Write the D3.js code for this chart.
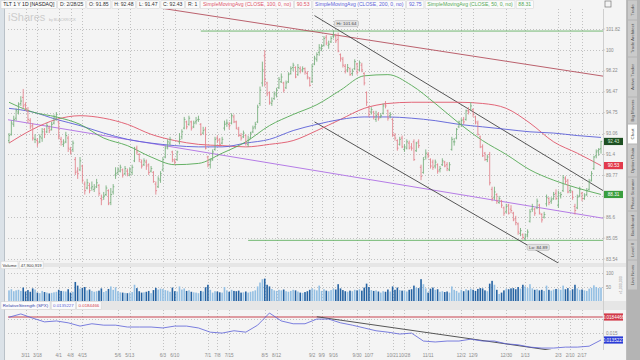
<!DOCTYPE html>
<meta charset="utf-8">
<style>
body { margin: 0; background: #ebebeb; }
svg { display: block; font-family: "Liberation Sans", Arial, sans-serif; }
.grid line { stroke: #c2c2c2; stroke-dasharray: 1,2; shape-rendering: crispEdges; }
.axis-label { fill: #8a8a8a; font-size: 4.6px; }
</style>
<script src="https://cdn.jsdelivr.net/npm/d3@7"></script>
<body>
<script>
// ---- data (TLT daily, 2/29/2024 - 2/28/2025) ----
const holidays = ['2024-03-29','2024-05-27','2024-06-19','2024-07-04','2024-09-02','2024-11-28',
  '2024-12-25','2025-01-01','2025-01-09','2025-01-20','2025-02-17'];

const opens = [92.5,
  93.0,93.8,94.3,94.8,95.5,96.0,95.4,94.9,94.1,93.7,92.6,92.5,92.4,92.7,93.4,93.2,93.5,93.4,93.9,94.3,
  94.0,92.6,92.2,92.4,92.7,91.8,91.8,91.0,90.1,90.2,90.5,89.1,88.8,89.0,88.8,88.7,88.9,89.0,88.0,88.1,88.3,88.6,
  87.7,88.5,89.8,90.0,90.1,90.2,89.9,90.1,89.8,90.0,90.9,91.9,91.4,90.8,90.6,90.8,90.6,90.1,90.0,89.1,88.9,89.4,
  90.2,91.2,92.0,92.3,91.6,90.9,91.0,92.4,92.8,93.5,94.0,93.8,94.0,93.6,94.0,94.2,93.8,93.1,93.4,
  91.2,90.6,91.0,91.8,92.7,92.6,92.3,93.5,93.9,93.8,93.9,94.4,94.0,93.4,92.9,92.8,92.9,92.2,92.7,93.2,93.6,94.0,
  95.5,97.2,99.5,97.2,96.4,95.5,95.9,96.2,96.8,97.3,97.2,96.8,97.3,98.0,98.5,98.5,97.9,98.4,98.3,98.4,98.0,97.6,
  97.3,98.8,99.2,99.8,100.1,100.4,101.1,100.4,100.7,101.2,101.2,100.9,99.6,99.2,98.6,98.3,98.4,98.0,98.4,98.8,
  98.3,98.7,98.0,96.4,95.2,94.8,94.8,94.2,94.6,94.4,94.7,95.5,94.9,94.5,94.2,92.9,92.5,92.2,92.7,91.8,91.9,92.3,92.0,
  92.4,91.7,92.4,90.4,90.0,91.2,91.4,91.0,90.8,90.5,90.6,90.2,90.6,90.8,90.6,90.2,91.8,92.4,92.7,93.6,
  93.8,94.2,94.2,94.9,95.0,95.0,94.4,93.9,92.8,92.0,91.5,91.0,91.4,88.7,88.1,88.3,87.7,87.8,87.3,87.0,87.5,
  87.2,86.9,86.5,86.1,85.4,85.3,85.0,85.3,86.3,87.2,87.2,87.3,87.5,86.8,86.6,87.6,88.0,87.8,88.0,88.4,
  87.5,88.2,88.6,89.5,89.4,88.6,88.5,87.4,87.3,88.2,88.4,88.0,88.3,88.7,89.4,90.3,91.3,91.7,91.85];

const highs = [93.1,
  94.1,94.5,95.1,95.6,96.1,96.7,95.6,95.2,94.3,93.9,93.0,92.7,93.0,93.5,93.5,93.9,93.7,94.0,94.6,94.8,
  94.1,92.8,92.6,93.2,92.9,92.0,92.5,91.2,90.4,91.2,90.6,89.3,89.5,89.2,89.3,89.1,89.5,89.1,88.3,88.5,89.0,88.7,
  88.8,89.1,90.4,90.4,90.6,90.3,90.5,90.3,90.4,90.6,92.0,92.1,91.5,91.0,91.1,91.0,90.7,90.5,90.1,89.3,89.7,90.1,
  91.2,92.1,92.6,92.8,91.7,91.1,91.7,93.1,93.4,94.4,94.1,94.5,94.1,94.1,94.4,94.5,93.9,93.6,93.6,
  91.3,91.1,91.8,92.8,92.9,92.7,92.8,94.1,94.2,94.0,94.7,94.6,94.1,93.6,93.1,93.3,93.0,92.9,93.2,93.7,94.0,95.4,
  96.9,99.0,100.0,97.3,96.5,96.0,96.5,96.8,97.7,98.0,97.3,97.4,98.1,98.6,98.9,98.6,98.8,98.6,98.6,98.5,98.2,97.7,
  98.8,99.5,99.8,100.5,100.5,101.2,101.3,100.8,101.2,101.64,101.4,101.5,99.7,99.4,98.8,98.8,98.5,98.4,99.2,98.9,
  99.1,98.9,98.1,96.5,95.3,95.2,94.9,94.9,94.8,94.7,95.5,95.7,95.0,94.8,94.3,93.1,92.6,92.8,92.9,92.2,92.6,92.5,92.3,
  92.6,92.4,92.6,90.6,91.2,91.8,91.6,91.1,91.0,91.0,90.7,90.5,91.1,90.9,90.8,90.8,92.8,92.7,93.5,94.1,
  94.3,94.4,95.0,95.2,95.6,95.1,94.5,94.1,92.9,92.2,91.6,91.4,91.6,88.9,88.9,88.4,88.2,87.9,87.4,87.6,87.6,
  87.5,87.0,86.7,86.2,85.8,85.4,85.4,85.7,87.2,87.6,87.3,88.0,87.6,86.9,87.0,88.3,88.1,88.1,88.5,88.7,
  88.6,88.5,89.8,89.7,89.5,88.9,88.6,87.6,88.3,88.9,88.5,88.4,88.8,89.5,90.1,91.3,91.8,91.9,92.48];

const lows = [92.3,
  92.9,93.6,94.1,94.6,95.3,95.1,94.9,93.9,93.4,92.5,92.3,92.0,92.3,92.4,92.7,93.1,93.1,93.3,93.8,94.1,
  92.6,92.1,92.0,92.3,91.6,91.4,91.6,89.8,89.5,90.1,89.2,88.3,88.7,88.4,88.6,88.5,88.8,88.2,87.5,87.9,88.2,87.5,
  87.5,88.3,89.5,89.8,90.0,89.6,89.8,89.7,89.7,89.8,90.8,91.4,90.8,90.3,90.5,90.2,89.8,90.0,89.2,88.3,88.8,89.2,
  90.1,91.1,91.8,92.1,90.8,90.6,90.9,92.2,92.6,93.4,93.4,93.7,93.3,93.5,93.8,94.0,92.9,93.0,91.8,
  90.4,90.3,90.9,91.7,92.3,92.0,92.2,93.3,93.6,93.4,93.8,93.9,93.4,92.8,92.5,92.7,92.1,92.0,92.6,93.1,93.4,93.9,
  95.3,96.9,96.9,96.1,95.4,95.3,95.8,96.0,96.7,97.2,96.4,96.7,97.2,97.9,98.2,97.6,97.8,98.0,98.1,97.9,97.5,96.9,
  97.2,98.7,99.0,99.5,99.9,100.3,100.4,100.1,100.6,101.0,100.6,99.8,99.0,98.5,98.0,98.1,97.8,97.8,98.3,97.9,
  98.2,98.1,97.0,95.3,94.4,94.6,94.2,94.0,94.1,94.3,94.6,95.1,94.1,94.3,92.8,92.5,91.7,92.1,91.9,91.6,91.8,91.8,91.7,
  90.9,91.6,91.9,89.4,89.9,91.0,91.1,90.3,90.2,90.3,89.9,90.0,90.5,90.4,90.1,90.1,91.7,92.1,92.6,93.5,
  93.6,93.8,94.1,94.6,94.9,94.4,93.8,92.9,91.9,91.2,90.9,90.8,89.0,87.8,87.9,87.6,87.6,87.3,86.7,86.9,86.8,
  86.9,86.3,86.0,85.3,85.2,84.95,84.89,85.1,86.2,87.0,86.7,87.2,86.8,86.2,86.5,87.4,87.5,87.6,87.9,87.9,
  87.3,88.0,88.5,89.1,88.4,88.4,87.9,86.8,87.2,88.1,87.8,87.9,88.2,88.6,89.3,90.2,91.1,91.3,91.47];

const closes = [92.9,
  93.9,94.2,94.9,95.4,95.7,95.3,95.1,94.2,93.6,92.7,92.6,92.3,92.8,93.2,93.0,93.7,93.3,93.8,94.4,94.6,
  92.8,92.4,92.3,92.9,91.9,91.6,92.3,90.0,89.9,90.9,89.4,88.6,89.2,88.6,88.9,88.8,89.2,88.4,87.9,88.2,88.8,87.6,
  88.3,88.9,89.9,90.2,90.4,89.8,90.3,89.9,90.2,90.4,91.8,91.6,91.0,90.5,90.9,90.5,90.0,90.3,89.3,88.6,89.5,89.9,
  91.0,91.9,92.4,92.6,91.0,90.8,91.6,92.6,93.2,94.2,93.6,94.3,93.5,93.9,94.1,94.2,93.0,93.3,91.9,
  90.6,90.9,91.6,92.6,92.5,92.2,92.6,93.8,93.9,93.7,94.5,94.0,93.5,92.9,92.7,93.1,92.3,92.5,93.1,93.5,93.8,95.2,
  96.6,98.3,97.5,96.3,95.6,95.7,96.3,96.6,97.5,97.7,96.6,97.2,97.9,98.4,98.7,97.7,98.5,98.2,98.4,98.1,97.7,97.0,
  98.6,99.3,99.6,100.2,100.3,101.0,100.6,100.5,101.0,101.3,100.8,99.9,99.3,98.7,98.2,98.5,97.9,98.2,99.0,98.1,
  98.9,98.3,97.2,95.6,94.6,95.0,94.4,94.5,94.3,94.5,95.3,95.3,94.3,94.6,93.0,92.7,91.9,92.6,92.0,92.0,92.4,91.9,91.9,
  91.0,92.3,92.1,89.7,91.0,91.5,91.3,90.5,90.4,90.8,90.1,90.3,90.9,90.5,90.3,90.6,92.6,92.4,93.4,94.0,
  94.1,94.0,94.9,94.8,95.3,94.6,94.0,93.0,92.0,91.3,91.0,91.2,89.2,88.0,88.5,87.8,88.0,87.5,86.9,87.4,86.9,
  87.1,86.4,86.2,85.5,85.6,85.1,85.2,85.5,87.0,87.4,86.9,87.8,86.9,86.4,86.8,88.1,87.7,87.9,88.3,88.0,
  88.4,88.3,89.6,89.3,88.5,88.6,88.1,87.1,88.1,88.7,88.0,88.2,88.6,89.3,89.9,91.2,91.6,91.8,92.43];

// volume, millions of shares
const volumes = [38,
  42,35,38,40,36,48,34,39,33,45,41,30,28,36,32,30,27,29,31,33,
  40,36,35,34,42,30,33,68,55,44,47,50,38,41,36,33,35,37,45,32,36,43,
  52,40,49,35,31,30,29,28,30,32,58,46,35,30,31,33,36,28,39,47,41,44,
  43,39,37,33,48,35,34,52,41,45,36,38,33,31,30,28,36,34,49,
  58,40,30,35,34,31,30,50,38,33,40,36,35,37,30,31,34,30,33,35,38,52,
  66,78,80,58,52,43,38,36,40,38,41,35,33,36,40,38,34,30,29,32,35,40,
  45,41,38,55,36,42,37,35,39,44,41,60,45,39,35,33,37,35,40,38,
  42,37,48,62,50,39,36,38,34,30,35,33,41,34,52,40,48,39,37,38,34,40,42,
  55,48,46,78,60,45,30,44,48,40,42,33,35,32,34,30,52,40,36,30,
  40,35,42,38,44,40,36,43,46,45,38,35,62,72,58,40,25,30,38,44,42,
  45,46,42,50,44,58,52,46,60,45,40,42,38,40,36,55,40,37,41,43,
  42,40,55,42,46,38,42,58,45,40,41,38,36,44,47,56,50,46,48];

// moving averages, one value every 10 sessions
const sma50  = [95.6,94.8,94.4,93.8,92.7,92.1,91.2,90.6,90.7,91.5,92.4,93.7,94.6,95.4,96.6,97.8,97.9,97.0,95.5,93.9,92.5,91.4,90.2,89.4,88.8,88.31];
const sma100 = [92.3,93.4,94.2,94.5,94.3,93.8,93.0,92.5,92.2,92.1,92.0,92.2,92.5,93.3,94.2,95.1,95.5,95.6,95.6,95.6,95.5,95.1,93.9,92.4,91.5,90.53];
const sma200 = [95.1,94.8,94.2,93.7,93.1,92.6,92.3,92.1,92.0,92.0,92.3,92.6,93.3,93.8,94.2,94.4,94.4,94.3,94.1,93.8,93.6,93.4,93.2,93.1,92.9,92.75];

// relative strength vs SPX, one value every 5 sessions
const relStrength = [0.0184,0.0191,0.0182,0.0174,0.0176,0.0172,0.0165,0.0170,0.0167,0.0167,
  0.0163,0.0163,0.0163,0.0161,0.0165,0.0165,0.0161,0.0152,0.0150,0.0155,
  0.0152,0.0167,0.0193,0.0176,0.0170,0.0170,0.0180,0.0180,0.0172,0.0167,
  0.0161,0.0155,0.0152,0.0148,0.0150,0.0133,0.0131,0.0133,0.0133,0.0137,
  0.0133,0.0133,0.0127,0.0125,0.0120,0.0118,0.0118,0.0120,0.0120,0.0122,0.0135227];
const relStrengthRef = 0.0184466;

const priceTicks = [101.82,100,98.22,96.47,94.75,93.06,91.4,89.77,88.17,86.6,85.05,83.54];
const volumeTicks = [100,50];
const rsTicks = [0.018,0.015];
const tickDates = ['2024-03-11','2024-03-18','2024-04-01','2024-04-08','2024-04-15','2024-05-06','2024-05-13',
  '2024-06-03','2024-06-10','2024-07-01','2024-07-08','2024-07-15','2024-08-05','2024-08-12','2024-09-02',
  '2024-09-09','2024-09-16','2024-09-30','2024-10-07','2024-10-21','2024-10-28','2024-11-11','2024-12-02',
  '2024-12-09','2024-12-30','2025-01-13','2025-02-03','2025-02-10','2025-02-17'];
const tickLabels = ['3/11','3/18','4/1','4/8','4/15','5/6','5/13','6/3','6/10','7/1','7/8','7/15','8/5','8/12',
  '9/2','9/9','9/16','9/30','10/7','10/21','10/28','11/11','12/2','12/9','12/30','1/13','2/3','2/10','2/17'];

// drawings: [startDate, startPrice, endDate, endPrice]
const redTrend    = ['2024-05-30',103.7,'2025-02-28',97.8];
const purpleTrend = ['2024-02-29',94.16,'2025-02-28',86.55];
const channelTop  = ['2024-09-04',103.0,'2025-02-28',88.7];
const channelBot  = ['2024-09-04',94.0,'2025-02-28',81.5];
const rsTrend     = ['2024-09-05',0.0185,'2025-01-29',0.0113];
const levelHigh = ['2024-06-26',101.64];
const levelLow  = ['2024-07-25',84.89];

const tabs = ['Trade','Trade Architect','Active Trader','Big Movers','Chart','Option Chain','Phase Scanner','Backboard','Level II','Live News'];
const tabEdges = [0,20,57,97,124,144,177,211,240,260,290];

// ---- colours / layout ----
const upColor = '#74ad7a', downColor = '#e27f89';
const volUp = '#93bfe3', volDown = '#2563a3';
const c100 = '#e0566a', c200 = '#5b5fd8', c50 = '#55a955';
const plotL = 8, plotR = 603;
const priceTop = 9, priceBottom = 263;
const volTop = 267, volBottom = 301;
const rsTop = 310, rsBottom = 350;

// trading sessions
const fmt = d3.utcFormat('%Y-%m-%d');
const dates = [];
for (let t = Date.UTC(2024, 1, 29); t <= Date.UTC(2025, 1, 28); t += 864e5) {
  const d = new Date(t), wd = d.getUTCDay();
  if (wd === 0 || wd === 6 || holidays.includes(fmt(d))) continue;
  dates.push(fmt(d));
}
const n = Math.min(dates.length, closes.length);
const bars = d3.range(n).map(i => ({d: dates[i], o: opens[i], h: highs[i], l: lows[i], c: closes[i], v: volumes[i]}));

const x = d3.scalePoint().domain(dates.slice(0, n)).range([9, 601]);
const y = d3.scaleLog().domain([83.54, 101.82]).range([259, 29]);
const yVol = d3.scaleLinear().domain([0, 100]).range([volBottom, 273]);
const yRs = d3.scaleLinear().domain([relStrengthRef, 0.0135227]).range([317, 340]);
const firstOnOrAfter = s => dates.find(d => d >= s);

const svg = d3.select('body').append('svg').attr('width', 640).attr('height', 360);
const defs = svg.append('defs');
function clip(id, y0, y1) {
  defs.append('clipPath').attr('id', id).append('rect')
    .attr('x', plotL).attr('y', y0).attr('width', plotR - plotL).attr('height', y1 - y0);
}
clip('cp-price', priceTop, priceBottom);
clip('cp-vol', volTop, volBottom);
clip('cp-rs', rsTop, rsBottom);

// backgrounds
svg.append('rect').attr('width', 640).attr('height', 360).attr('fill', '#ebebeb');
svg.append('rect').attr('x', 4).attr('width', 622).attr('height', 360).attr('fill', '#f4f4f4');
svg.append('rect').attr('width', 4).attr('height', 360).attr('fill', '#dbe2e8');
svg.append('line').attr('x1', 4.5).attr('x2', 4.5).attr('y1', 0).attr('y2', 360).attr('stroke', '#b9c1c8');
[[priceBottom, volTop], [volBottom, rsTop]].forEach(([a, b]) => {
  svg.append('rect').attr('x', 5).attr('y', a).attr('width', 621).attr('height', b - a).attr('fill', '#e6e6e6');
});
svg.append('line').attr('x1', plotR + 0.5).attr('x2', plotR + 0.5).attr('y1', priceTop).attr('y2', rsBottom).attr('stroke', '#cfcfcf');
svg.append('line').attr('x1', 626.5).attr('x2', 626.5).attr('y1', 0).attr('y2', 360).attr('stroke', '#bdbdbd');

// grid
const grid = svg.append('g').attr('class', 'grid');
grid.selectAll('line.h').data(priceTicks).join('line')
  .attr('x1', plotL).attr('x2', plotR).attr('y1', d => Math.round(y(d)) + 0.5).attr('y2', d => Math.round(y(d)) + 0.5);
grid.selectAll('line.hv').data(volumeTicks).join('line').attr('class', 'hv')
  .attr('x1', plotL).attr('x2', plotR).attr('y1', d => Math.round(yVol(d)) + 0.5).attr('y2', d => Math.round(yVol(d)) + 0.5);
grid.selectAll('line.hr').data(rsTicks).join('line').attr('class', 'hr')
  .attr('x1', plotL).attr('x2', plotR).attr('y1', d => Math.round(yRs(d)) + 0.5).attr('y2', d => Math.round(yRs(d)) + 0.5);
[[priceTop, priceBottom], [volTop, volBottom], [rsTop, rsBottom]].forEach(([a, b]) => {
  grid.append('g').selectAll('line').data(tickDates).join('line')
    .attr('x1', d => Math.round(x(firstOnOrAfter(d))) + 0.5).attr('x2', d => Math.round(x(firstOnOrAfter(d))) + 0.5)
    .attr('y1', a).attr('y2', b);
});

// watermark
svg.append('text').attr('x', 8).attr('y', 21).attr('font-size', 11).attr('fill', '#cdcdcd').text('iShares');
svg.append('text').attr('x', 49).attr('y', 21).attr('font-size', 3.6).attr('fill', '#bdbdbd').text('by BLACKROCK');

// price panel
const gp = svg.append('g').attr('clip-path', 'url(#cp-price)');
function seg(def, xs, ys, extendLeft) {
  let x1 = xs(def[0]), y1 = ys(def[1]), x2 = xs(def[2]), y2 = ys(def[3]);
  const m = (y2 - y1) / (x2 - x1);
  if (extendLeft) { y1 += (plotL - x1) * m; x1 = plotL; }
  y2 += (plotR - x2) * m; x2 = plotR;
  return [x1, y1, x2, y2];
}
function drawSeg(g, s, color, w) {
  g.append('line').attr('x1', s[0]).attr('y1', s[1]).attr('x2', s[2]).attr('y2', s[3])
    .attr('stroke', color).attr('stroke-width', w || 0.9);
}
drawSeg(gp, [x(firstOnOrAfter(levelHigh[0])), y(levelHigh[1]), plotR, y(levelHigh[1])], '#66b266');
drawSeg(gp, [x(firstOnOrAfter(levelLow[0])), y(levelLow[1]), plotR, y(levelLow[1])], '#66b266');
drawSeg(gp, seg(redTrend, x, y, true), '#b4505e');
drawSeg(gp, seg(purpleTrend, x, y, true), '#b57ce6', 1);
drawSeg(gp, seg(channelTop, x, y, false), '#444');
drawSeg(gp, seg(channelBot, x, y, false), '#444');

const smaDates = dates.filter((d, i) => i % 10 === 0);
const smaLine = d3.line().x((v, i) => x(smaDates[i])).y(v => y(v)).curve(d3.curveMonotoneX);
[[sma100, c100], [sma200, c200], [sma50, c50]].forEach(([s, c]) => {
  gp.append('path').attr('d', smaLine(s)).attr('fill', 'none').attr('stroke', c).attr('stroke-width', 0.9);
});

gp.selectAll('path.bar').data(bars).join('path').attr('class', 'bar')
  .attr('d', b => {
    const X = x(b.d);
    return `M${X},${y(b.h)}V${y(b.l)}M${X - 1.2},${y(b.o)}H${X}M${X},${y(b.c)}H${X + 1.2}`;
  })
  .attr('fill', 'none').attr('stroke-width', 0.85)
  .attr('stroke', b => b.c >= b.o ? upColor : downColor);

// hi / lo bubbles
const hiBar = bars.reduce((a, b) => b.h > a.h ? b : a);
const loBar = bars.reduce((a, b) => b.l < a.l ? b : a);
function bubble(cx, cy, label) {
  const g = svg.append('g');
  const t = g.append('text').attr('x', cx).attr('y', cy + 1.5).attr('text-anchor', 'middle')
    .attr('font-size', 4.4).attr('fill', '#444').text(label);
  const w = t.node().getComputedTextLength() + 4;
  g.insert('rect', 'text').attr('x', cx - w / 2).attr('y', cy - 3).attr('width', w).attr('height', 6)
    .attr('rx', 1.5).attr('fill', '#e2e2e2').attr('stroke', '#a9a9a9').attr('stroke-width', 0.5);
}
bubble(x(hiBar.d) + 13, y(hiBar.h) - 7.5, 'Hi: ' + hiBar.h.toFixed(2));
bubble(x(loBar.d) + 13, y(loBar.l) + 7, 'Lo: ' + loBar.l.toFixed(2));

// price axis (labels under a value tag are hidden, as in the platform)
const priceTags = [
  [sma50[sma50.length - 1], '#3a9e3e'],
  [sma100[sma100.length - 1], '#e23a4c'],
  [bars[n - 1].c, '#1d4f22', '#d8f0d8']
];
const rsTags = [[relStrengthRef, '#d23a4a'], [relStrength[relStrength.length - 1], '#2a3bd6']];
const free = (v, scale, tags) => tags.every(t => Math.abs(scale(t[0]) - scale(v)) > 5);
svg.append('g').selectAll('text').data(priceTicks.filter(v => free(v, y, priceTags))).join('text').attr('class', 'axis-label')
  .attr('x', 606).attr('y', d => y(d) + 1.6).text(d => d);
svg.append('g').selectAll('line').data(priceTicks).join('line')
  .attr('x1', plotR).attr('x2', plotR + 2).attr('y1', d => y(d)).attr('y2', d => y(d)).attr('stroke', '#bbb').attr('stroke-width', 0.5);
function tag(yy, label, fill, textFill) {
  svg.append('rect').attr('x', 604).attr('y', yy - 3.6).attr('width', 19).attr('height', 7.2).attr('fill', fill);
  svg.append('text').attr('x', 613.5).attr('y', yy + 1.7).attr('text-anchor', 'middle')
    .attr('font-size', 4.6).attr('fill', textFill || '#fff').text(label);
}
priceTags.forEach(([v, f, tf]) => tag(y(v), v.toFixed(2), f, tf));

// header
const header = [
  ['TLT 1 Y 1D [NASDAQ]', '#222'], ['D: 2/28/25', '#333'], ['O: ' + bars[n - 1].o, '#333'],
  ['H: ' + bars[n - 1].h, '#333'], ['L: ' + bars[n - 1].l, '#333'], ['C: ' + bars[n - 1].c, '#333'], ['R: 1', '#333'],
  ['SimpleMovingAvg (CLOSE, 100, 0, no)', c100], [sma100[sma100.length - 1].toFixed(2), c100],
  ['SimpleMovingAvg (CLOSE, 200, 0, no)', c200], [sma200[sma200.length - 1].toFixed(2), c200],
  ['SimpleMovingAvg (CLOSE, 50, 0, no)', c50], [sma50[sma50.length - 1].toFixed(2), c50]
];
function headerRow(items, x0, yy, fs, pad) {
  let cx = x0;
  items.forEach(([label, color]) => {
    const g = svg.append('g');
    const t = g.append('text').attr('x', cx + pad).attr('y', yy + 1.7).attr('font-size', fs).attr('fill', color).text(label);
    const w = t.node().getComputedTextLength() + 2 * pad;
    g.insert('rect', 'text').attr('x', cx).attr('y', yy - 3.8).attr('width', w).attr('height', 7.6)
      .attr('fill', '#fbfbfb').attr('stroke', '#d2d2d2').attr('stroke-width', 0.5);
    cx += w + 1.2;
  });
}
headerRow(header, 1, 4.6, 5.1, 2.2);
headerRow([['Volume', '#333'], ['47,900,919', '#333']], 1, 265, 4.2, 1.5);
headerRow([['RelativeStrength (SPX)', '#3340a8'], [relStrength[relStrength.length - 1].toFixed(7), c200], [relStrengthRef.toFixed(7), '#d23a4a']], 1, 305.5, 4.4, 1.8);

// volume panel
const gv = svg.append('g').attr('clip-path', 'url(#cp-vol)');
gv.selectAll('rect').data(bars).join('rect')
  .attr('x', b => x(b.d) - 0.8).attr('width', 1.6)
  .attr('y', b => yVol(b.v)).attr('height', b => volBottom - yVol(b.v))
  .attr('fill', b => b.c >= b.o ? volUp : volDown);
svg.append('g').selectAll('text').data(volumeTicks).join('text').attr('class', 'axis-label')
  .attr('x', 606).attr('y', d => yVol(d) + 1.6).text(d => d);
svg.append('text').attr('transform', 'translate(622,294) rotate(-90)').attr('font-size', 3.6)
  .attr('fill', '#9a9a9a').text('x1,000,000');

// relative strength panel
const gr = svg.append('g').attr('clip-path', 'url(#cp-rs)');
drawSeg(gr, [plotL, yRs(relStrengthRef), plotR, yRs(relStrengthRef)], '#c8434f', 1);
drawSeg(gr, [x(firstOnOrAfter(rsTrend[0])), yRs(rsTrend[1]), x(firstOnOrAfter(rsTrend[2])), yRs(rsTrend[3])], '#444');
const rsDates = dates.filter((d, i) => i % 5 === 0);
gr.append('path').attr('d', d3.line().x((v, i) => x(rsDates[i])).y(v => yRs(v))(relStrength))
  .attr('fill', 'none').attr('stroke', c200).attr('stroke-width', 0.8);
svg.append('g').selectAll('text').data(rsTicks.filter(v => free(v, yRs, rsTags))).join('text').attr('class', 'axis-label')
  .attr('x', 606).attr('y', d => yRs(d) + 1.6).text(d => d);
rsTags.forEach(([v, f]) => tag(yRs(v), v.toFixed(7), f));

// date axis
svg.append('g').selectAll('text').data(tickDates).join('text').attr('class', 'axis-label')
  .attr('x', d => x(firstOnOrAfter(d))).attr('y', 357).attr('text-anchor', 'middle').attr('fill', '#707070')
  .text((d, i) => tickLabels[i]);

// side tabs
svg.append('rect').attr('x', 627).attr('width', 13).attr('height', 360).attr('fill', '#b4b4b4');
tabs.forEach((name, i) => {
  const a = tabEdges[i], b = tabEdges[i + 1];
  svg.append('rect').attr('x', 628).attr('y', a + 0.5).attr('width', 9).attr('height', b - a - 1)
    .attr('fill', name === 'Chart' ? '#ffffff' : '#cacaca');
  svg.append('text').attr('transform', `translate(634.3,${(a + b) / 2}) rotate(-90)`)
    .attr('text-anchor', 'middle').attr('font-size', 4.4).attr('fill', '#555').text(name);
});
svg.append('rect').attr('x', 605).attr('y', 1).attr('width', 6).attr('height', 6).attr('fill', 'none')
  .attr('stroke', '#777').attr('stroke-width', 0.7);
</script>
</body>
